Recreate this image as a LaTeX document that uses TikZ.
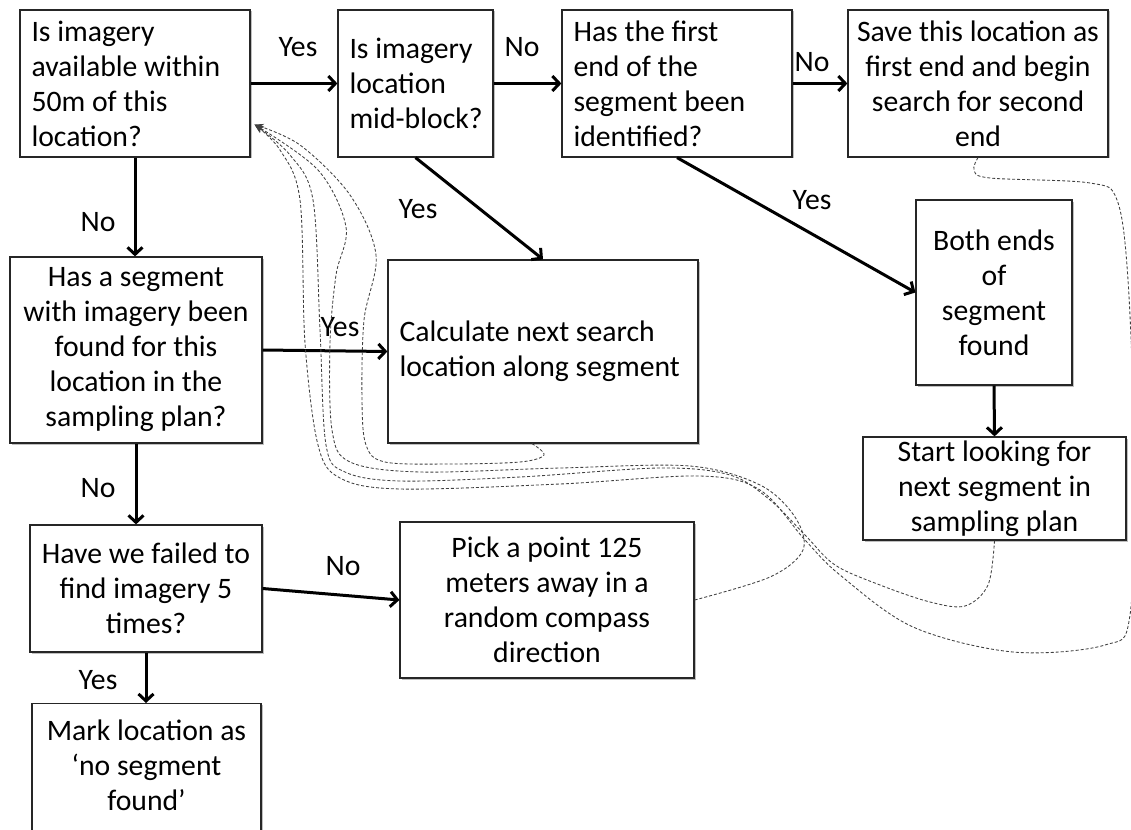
\documentclass[tikz,border=0pt]{standalone}
\usepackage{fontspec}
\setmainfont{Carlito}
\usetikzlibrary{arrows.meta,calc,shadows}
\begin{document}
\begin{tikzpicture}[x=1pt,y=-1pt,
  box/.style={draw=black!85, line width=1.2pt, fill=white, inner ysep=0pt,
    font=\fontsize{29.7}{35}\selectfont,
    drop shadow={shadow xshift=1.5pt, shadow yshift=-1.5pt, fill=black, opacity=0.25}},
  cbox/.style={box, align=center, inner xsep=4pt},
  lbox/.style={box, align=flush left, inner xsep=11.5pt},
  flow/.style={line width=3pt, -{Straight Barb[length=7pt,width=15pt]}},
  lab/.style={font=\fontsize{29.7}{35}\selectfont, inner sep=0pt},
  ret/.style={densely dashed, line width=0.85pt, black!75, -{Stealth[length=9pt,width=7pt]}}
]
\useasboundingbox[fill=white] (0,0) rectangle (1131,829);

\node[lbox, minimum width=230pt, minimum height=147pt, text width=207pt] (A) at (135,83.5) {Is imagery\\available within\\50m of this\\location?};
\node[lbox, minimum width=155pt, minimum height=147pt, text width=132pt] (B) at (415.5,83.5) {Is imagery\\location\\\mbox{mid-block?}};
\node[lbox, minimum width=230pt, minimum height=147pt, text width=207pt] (C) at (677,83.5) {Has the first\\end of the\\segment been\\identified?};
\node[cbox, minimum width=260pt, minimum height=147pt] (D) at (978,83.5) {Save this location as\\first end and begin\\search for second\\end};
\node[cbox, minimum width=252pt, minimum height=186pt] (E) at (136,350) {Has a segment\\with imagery been\\found for this\\location in the\\sampling plan?};
\node[lbox, minimum width=310pt, minimum height=183pt, text width=287pt] (F) at (543,351.5) {Calculate next search\\location along segment};
\node[cbox, minimum width=156pt, minimum height=185pt] (G) at (994,292.5) {Both ends\\of\\segment\\found};
\node[cbox, minimum width=263pt, minimum height=103pt] (H) at (994.5,488.5) {Start looking for\\next segment in\\sampling plan};
\node[cbox, minimum width=232pt, minimum height=127pt] (I) at (146,588.5) {Have we failed to\\find imagery 5\\times?};
\node[cbox, minimum width=294pt, minimum height=156pt] (J) at (547,600) {Pick a point 125\\meters away in a\\random compass\\direction};
\node[box, minimum width=229pt, minimum height=140pt, anchor=north] (K) at (146.5,703) {};
\node[lab, align=center] (Kt) at (146.5,765) {Mark location as\\‘no segment\\found’};

\draw[flow] (A.east) -- (B.west);
\draw[flow] (B.east) -- (C.west);
\draw[flow] (C.east) -- (D.west);
\draw[flow] (A.south) -- (A.south |- E.north);
\draw[flow] (B.south) -- (F.north);
\draw[flow] (C.south) -- (G.west);
\draw[flow] (E.east) -- (F.west);
\draw[flow] (G.south) -- (H.north);
\draw[flow] (E.south) -- (E.south |- I.north);
\draw[flow] (I.east) -- (J.west);
\draw[flow] (I.south) -- (I.south |- K.north);

\node[lab] (l1) at (298,47) {Yes};
\node[lab] (l2) at (522,47) {No};
\node[lab] (l3) at (812,62) {No};
\node[lab] (l4) at (98,222) {No};
\node[lab] (l5) at (418,209) {Yes};
\node[lab] (l6) at (812,200) {Yes};
\node[lab] (l7) at (340,327) {Yes};
\node[lab] (l8) at (98,488) {No};
\node[lab] (l9) at (343,566) {No};
\node[lab] (l10) at (98,680) {Yes};

\coordinate (fs) at ($(F.south)+(-11,0)$);
\coordinate (tip) at ($(A.south east)+(4,-33)$);

\draw[ret] plot[smooth, tension=0.55] coordinates {(fs) (544,455) (520,462) (450,464) (385,462) (366,445) (362,400) (364,320) (376,255) (350,195) (300,145) (tip)};
\draw[ret] plot[smooth, tension=0.55] coordinates {(J.east) (770,577) (803,550) (795,517) (760,485) (690,466) (560,468) (420,472) (350,462) (332,430) (330,343) (336,275) (346,227) (318,170) (tip)};
\draw[ret] plot[smooth, tension=0.55] coordinates {(H.south) (988,585) (965,606) (930,602) (880,585) (835,565) (805,535) (770,500) (730,475) (660,468) (520,477) (400,481) (345,472) (326,445) (320,330) (313,200) (290,155) (tip)};
\draw[ret] plot[smooth, tension=0.55] coordinates {(D.south) (974,170) (990,178) (1090,183) (1117,200) (1128,280) (1134,450) (1130,615) (1105,645) (1013,652) (913,627) (840,575) (805,540) (760,490) (700,476) (560,484) (400,489) (340,478) (318,445) (305,343) (300,200) (280,150) (tip)};
\end{tikzpicture}
\end{document}
